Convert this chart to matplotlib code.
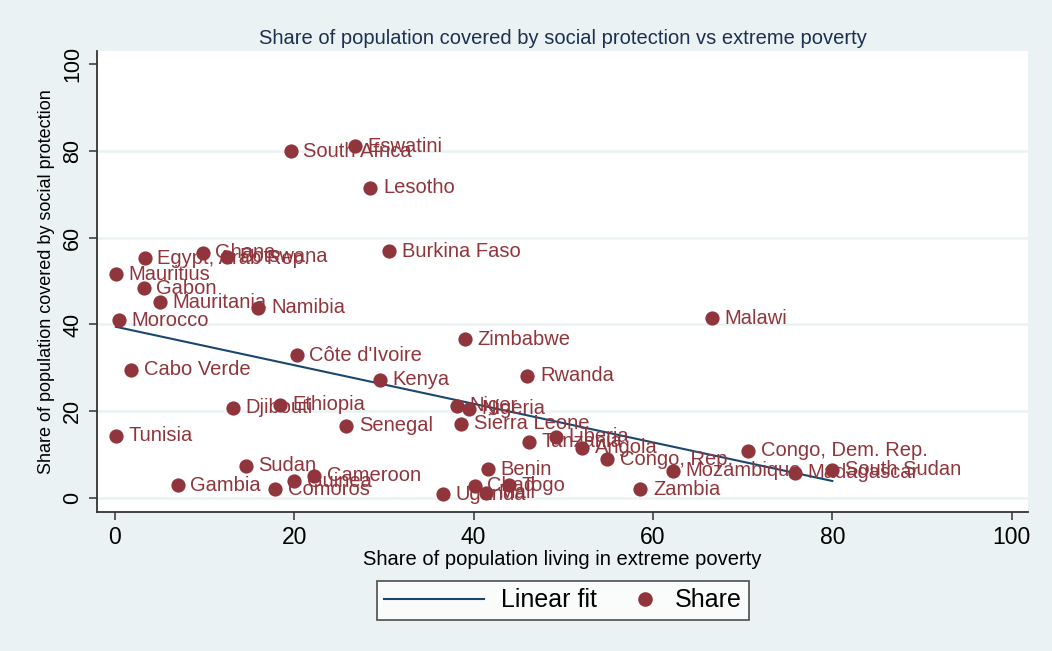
import numpy as np
import matplotlib.pyplot as plt
from matplotlib.lines import Line2D
from matplotlib.legend_handler import HandlerLine2D

# Country-level shares (%)
countries = ["Eswatini", "South Africa", "Lesotho", "Burkina Faso", "Ghana",
             "Egypt, Arab Rep.", "Botswana", "Mauritius", "Gabon", "Mauritania",
             "Namibia", "Morocco", "Malawi", "Zimbabwe", "Côte d'Ivoire",
             "Cabo Verde", "Kenya", "Rwanda", "Djibouti", "Ethiopia", "Niger",
             "Nigeria", "Senegal", "Sierra Leone", "Tunisia", "Liberia",
             "Tanzania", "Angola", "Congo, Rep.", "Congo, Dem. Rep.", "Sudan",
             "Mozambique", "Madagascar", "South Sudan", "Cameroon", "Guinea",
             "Benin", "Gambia", "Comoros", "Chad", "Togo", "Mali", "Uganda",
             "Zambia"]
poverty = [26.8, 19.6, 28.5, 30.6, 9.8, 3.3, 12.5, 0.1, 3.2, 5.0, 16.0, 0.4,
           66.6, 39.0, 20.3, 1.8, 29.6, 46.0, 13.2, 18.4, 38.1, 39.5, 25.8,
           38.6, 0.1, 49.2, 46.2, 52.1, 54.9, 70.6, 14.6, 62.2, 75.8, 80.0,
           22.2, 20.0, 41.6, 7.0, 17.9, 40.1, 44.0, 41.4, 36.6, 58.6]
coverage = [81.0, 79.9, 71.5, 56.9, 56.5, 55.3, 55.6, 51.6, 48.4, 45.1, 43.8,
            41.0, 41.4, 36.6, 32.9, 29.6, 27.3, 28.2, 20.8, 21.5, 21.3, 20.6,
            16.7, 17.1, 14.4, 14.1, 13.0, 11.6, 9.0, 10.9, 7.4, 6.3, 5.8, 6.5,
            5.1, 3.9, 6.7, 3.0, 2.1, 2.8, 3.0, 1.2, 0.9, 2.1]

bg = "#eaf2f3"
maroon = "#90353b"
navy = "#1a476f"
dark = "#333333"


class HandlerDotRight(HandlerLine2D):
    # single marker at the right end of its key, close to the label
    def create_artists(self, legend, orig_handle, xdescent, ydescent,
                       width, height, fontsize, trans):
        ypos = (height - ydescent) / 2
        dot = Line2D([width - xdescent - 9.0], [ypos])
        self.update_prop(dot, orig_handle, legend)
        dot.set_transform(trans)
        return [dot]


plt.rcParams['font.family'] = ['Liberation Sans', 'DejaVu Sans']

fig = plt.figure(figsize=(10.52, 6.51), dpi=100, facecolor=bg)
ax = fig.add_axes([0.0922, 0.2135, 0.8848, 0.7082])
ax.set_facecolor("white")

x = np.array(poverty)
y = np.array(coverage)
slope, intercept = np.polyfit(x, y, 1)
xs = np.array([x.min(), x.max()])
fit_line, = ax.plot(xs, intercept + slope * xs, color=navy, lw=1.5, zorder=2)

ax.scatter(x, y, s=105, color=maroon, zorder=3, linewidths=0)
for name, px, py in zip(countries, poverty, coverage):
    ax.annotate(name, (px, py), xytext=(9, 0), textcoords="offset points",
                va="center", ha="left", fontsize=14.5, color=maroon, zorder=4)

ax.set_xlim(-2.0, 101.8)
ax.set_ylim(-3.2, 103.0)
ax.set_xticks(range(0, 101, 20))
ax.set_yticks(range(0, 101, 20))
ax.tick_params(axis="both", length=6, width=1.1, color=dark)
ax.tick_params(axis="x", labelsize=16.5, pad=4)
ax.tick_params(axis="y", labelsize=15.5, pad=4)
plt.setp(ax.get_yticklabels(), rotation=90, va="center")

ax.grid(axis="y", color=bg, lw=1.8, zorder=0)
ax.get_ygridlines()[-1].set_visible(False)
for side in ["top", "right"]:
    ax.spines[side].set_visible(False)
for side in ["left", "bottom"]:
    ax.spines[side].set_color(dark)
    ax.spines[side].set_linewidth(1.3)

ax.set_xlabel("Share of population living in extreme poverty", fontsize=14.5, labelpad=1)
ax.set_ylabel("Share of population covered by social protection", fontsize=13, labelpad=5)
fig.text(0.535, 0.9416,
         "Share of population covered by social protection vs extreme poverty",
         fontsize=14.5, color="#1e2f4f", ha="center", va="center")

dot = Line2D([], [], ls="none", marker="o", ms=10.5, color=maroon, mew=0)
leg = fig.legend([fit_line, dot], ["Linear fit", "Share"], ncol=2,
                 loc="center", bbox_to_anchor=(0.535, 0.0776), fontsize=18,
                 frameon=True, fancybox=False, edgecolor="#222222",
                 handlelength=4.0, handletextpad=0.68, columnspacing=-1.6,
                 borderpad=0.3, borderaxespad=0,
                 handler_map={dot: HandlerDotRight()})
leg.get_frame().set_linewidth(1.2)

fig.savefig("out.png", dpi=100, facecolor=bg)
